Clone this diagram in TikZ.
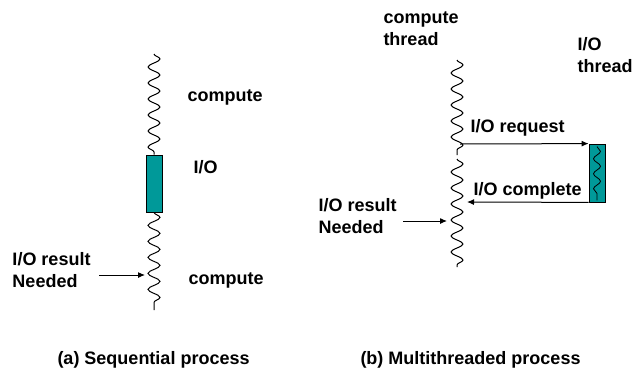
\documentclass[tikz,border=0pt]{standalone}
\usepackage{fontspec}
\setmainfont{Liberation Sans}
\usetikzlibrary{arrows.meta}
\usetikzlibrary{calc}
\usetikzlibrary{decorations.pathmorphing}
\definecolor{ioteal}{RGB}{0,153,153}

\begin{document}
\begin{tikzpicture}[x=1pt,y=-1pt,font=\fontsize{18}{22}\selectfont\bfseries,
		line width=1pt,>={Latex[length=7pt,width=6pt]},
		wave/.style={decorate,decoration={snake,amplitude=6pt,segment length=16pt}},
		smallwave/.style={decorate,decoration={snake,amplitude=3.5pt,segment length=15pt}},
		iobox/.style={draw,fill=ioteal,line width=0.8pt,minimum width=16pt,inner sep=0pt},
		lbl/.style={anchor=base west,align=left,inner sep=0pt}]
	\useasboundingbox (0,0) rectangle (634,370);

	% (a) sequential: compute, block on I/O, compute again
	\node[iobox,minimum height=57pt] (ioboxA) at (154,183.5) {};
	\coordinate (topA) at (154,54);
	\coordinate (endA) at (154,310);
	\draw[wave] (topA) -- (ioboxA.north);
	\draw[wave] (ioboxA.south) -- (endA);
	\node[lbl] (compA1) at (187,101) {compute};
	\node[lbl] (ioA) at (193,173) {I/O};
	\node[lbl] (compA2) at (188,284) {compute};
	% two-line labels sit on the baseline of their last line
	\node[lbl] (needA) at (12,287) {I/O result\\Needed};
	\coordinate (tailA) at (99,275);
	\coordinate (hitA) at (145,275);
	\draw[->] (tailA) -- (hitA);

	% (b) multithreaded: compute thread keeps going while the I/O thread works
	\coordinate (topB) at (457,60);
	\coordinate (midB1) at (457,155);
	\coordinate (midB2) at (457,159);
	\coordinate (endB) at (457,267);
	\draw[wave] (topB) -- (midB1);
	\draw[wave] (midB2) -- (endB);
	\node[iobox,minimum height=58pt] (ioboxB) at (597,173) {};
	\draw[smallwave,line width=0.8pt] ($(ioboxB.north)+(0,3)$) -- ($(ioboxB.south)+(0,-2)$);
	\node[lbl] (compB) at (383,45) {compute\\thread};
	\node[lbl] (ioB) at (577,72) {I/O\\thread};
	\node[lbl] (reqB) at (470,132) {I/O request};
	\node[lbl] (cplB) at (473,195) {I/O complete};
	\node[lbl] (needB) at (318,233) {I/O result\\Needed};
	\coordinate (sendB) at (460,144);
	\coordinate (backB) at (467,202);
	\draw[->] (sendB) -- (ioboxB.north west);
	\draw[->] (ioboxB.south west) -- (backB);
	\coordinate (tailB) at (403,221);
	\coordinate (hitB) at (447,221);
	\draw[->] (tailB) -- (hitB);

	% captions
	\node[lbl] (capA) at (57,364) {(a) Sequential process};
	\node[lbl] (capB) at (360,364) {(b) Multithreaded process};
\end{tikzpicture}
\end{document}
